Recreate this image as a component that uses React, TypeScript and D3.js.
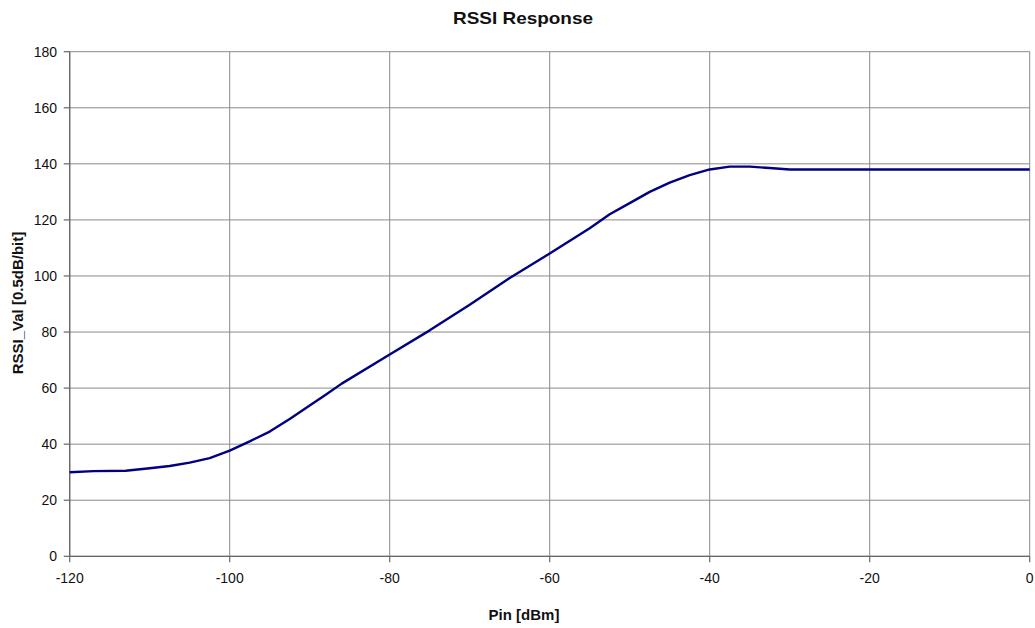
import React from "react";
import * as d3 from "d3";

const pinDbm: number[] = [-120, -117, -113, -110, -107.5, -105, -102.5, -100, -97.5, -95, -92.5, -90, -88, -86, -80, -75, -70, -65, -60, -55, -52.5, -50, -47.5, -45, -42.5, -40, -37.5, -35, -32.5, -30, -20, -10, 0];
const rssiVal: number[] = [30, 30.4, 30.5, 31.4, 32.2, 33.4, 35, 37.7, 41, 44.5, 49, 53.8, 57.6, 61.6, 72, 80.6, 89.7, 99.3, 108, 117, 122, 126, 130, 133.3, 136, 138, 139, 139, 138.5, 138, 138, 138, 138];
const xTicks: number[] = [-120, -100, -80, -60, -40, -20, 0];
const yTicks: number[] = [0, 20, 40, 60, 80, 100, 120, 140, 160, 180];

const W = 1035;
const H = 628;
const left = 69.7;
const right = 1029.7;
const top = 51.7;
const bottom = 556.3;
const font = "'Liberation Sans', Arial, sans-serif";

export default function App() {
  const x = d3.scaleLinear().domain([-120, 0]).range([left, right]);
  const y = d3.scaleLinear().domain([0, 180]).range([bottom, top]);
  const pts: [number, number][] = pinDbm.map((p, i) => [p, rssiVal[i]]);
  const line = d3
    .line<[number, number]>()
    .x((d) => x(d[0]))
    .y((d) => y(d[1]))
    .curve(d3.curveLinear);

  return (
    <svg
      width={W}
      height={H}
      style={{ position: "absolute", left: 0, top: 0, background: "#fff" }}
      fontFamily={font}
    >
      <rect x={0} y={0} width={W} height={H} fill="#fff" />
      {yTicks.map((t) => (
        <line key={"gy" + t} x1={left} x2={right} y1={y(t)} y2={y(t)} stroke="#8a8a8a" strokeWidth={1} />
      ))}
      {xTicks.map((t) => (
        <line key={"gx" + t} x1={x(t)} x2={x(t)} y1={top} y2={bottom} stroke="#8a8a8a" strokeWidth={1} />
      ))}
      <line x1={left} x2={left} y1={top} y2={bottom} stroke="#666" strokeWidth={1.3} />
      <line x1={left} x2={right} y1={bottom} y2={bottom} stroke="#666" strokeWidth={1.3} />
      {yTicks.map((t) => (
        <g key={"ty" + t}>
          <line x1={left - 6} x2={left} y1={y(t)} y2={y(t)} stroke="#666" strokeWidth={1.2} />
          <text x={57} y={y(t)} dy="0.35em" textAnchor="end" fontSize={14} fill="#111">
            {t}
          </text>
        </g>
      ))}
      {xTicks.map((t) => (
        <g key={"tx" + t}>
          <line x1={x(t)} x2={x(t)} y1={bottom} y2={bottom + 6} stroke="#666" strokeWidth={1.2} />
          <text x={x(t)} y={583} textAnchor="middle" fontSize={14} fill="#111">
            {t}
          </text>
        </g>
      ))}
      <path d={line(pts) || ""} fill="none" stroke="#000080" strokeWidth={2.4} strokeLinejoin="round" />
      <text x={523} y={24} textAnchor="middle" fontSize={17} fontWeight="bold" fill="#111" textLength={140} lengthAdjust="spacingAndGlyphs">
        RSSI Response
      </text>
      <text x={524} y={620} textAnchor="middle" fontSize={15} fontWeight="bold" fill="#111">
        Pin [dBm]
      </text>
      <text
        transform={`translate(23, 303) rotate(-90)`}
        textAnchor="middle"
        fontSize={15}
        fontWeight="bold"
        fill="#111"
      >
        RSSI_Val [0.5dB/bit]
      </text>
    </svg>
  );
}
